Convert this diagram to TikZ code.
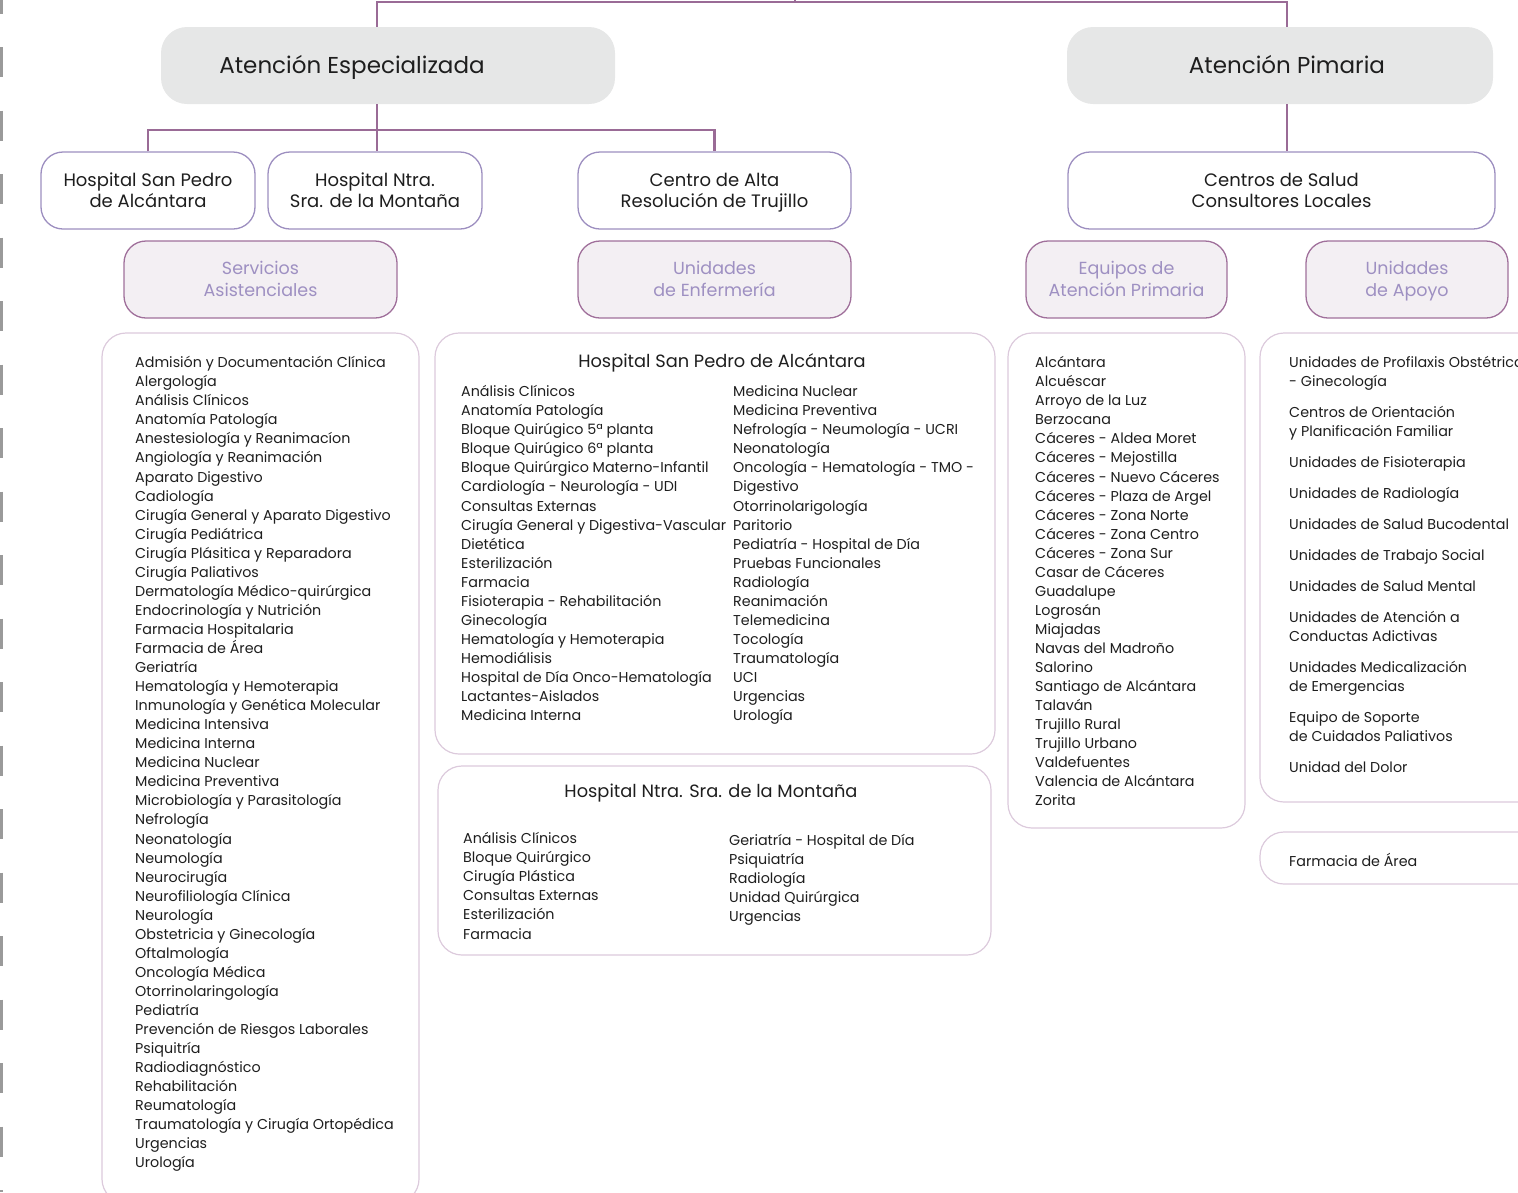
\documentclass[tikz,border=0pt]{standalone}
\usepackage{fontspec}
\setmainfont{Poppins}
\definecolor{connc}{HTML}{9A6B96}
\definecolor{headfill}{HTML}{E6E7E7}
\definecolor{unitborder}{HTML}{9D8FC0}
\definecolor{catborder}{HTML}{A0709B}
\definecolor{catfill}{HTML}{F3EFF3}
\definecolor{cattext}{HTML}{9E90C2}
\definecolor{listborder}{HTML}{DCCADC}
\definecolor{textdark}{HTML}{1E1E1E}
\definecolor{dashgray}{HTML}{9A9A9A}
\newcommand\listfont{\fontsize{14.3}{19}\selectfont}
\newcommand\hs{\rule[-10pt]{0pt}{36pt}}
\newcommand\ut{\rule{0pt}{22pt}}
\newcommand\ub{\rule[-9.4pt]{0pt}{9.4pt}}
\newcommand\ct{\rule{0pt}{21pt}}
\newcommand\cb{\rule[-8.8pt]{0pt}{8.8pt}}
\begin{document}
\setlength{\lineskiplimit}{-50pt}
\begin{tikzpicture}[x=1pt,y=-1pt,
  conn/.style={draw=connc, line width=2.6pt},
  headbox/.style={fill=headfill, rounded corners=26pt, inner sep=0, minimum height=77pt,
    font=\fontsize{23}{28}\selectfont, text=textdark},
  unitbox/.style={draw=unitborder, line width=1.3pt, fill=white, rounded corners=22pt, inner sep=0,
    minimum height=77pt, align=center, font=\fontsize{18}{21}\selectfont, text=textdark},
  catbox/.style={draw=catborder, line width=1.3pt, fill=catfill, rounded corners=22pt, inner sep=0,
    minimum height=77pt, align=center, font=\fontsize{17.5}{22}\selectfont, text=cattext},
  listbox/.style={draw=listborder, line width=1.2pt, rounded corners=24pt, inner sep=0},
  itemtext/.style={anchor=mid west, inner sep=0, font=\listfont, text=textdark, yshift=-3pt},
  titletext/.style={anchor=mid, inner sep=0, font=\fontsize{17.8}{22}\selectfont, text=textdark, yshift=-4pt}
]
\useasboundingbox (0,0) rectangle (1518,1192);
\clip (0,0) rectangle (1518,1192);

% left dashed rule
\draw[dashgray, line width=3pt, dash pattern=on 30pt off 33.5pt] (1.5,-16.5) -- (1.5,1192);

% level 1
\node[headbox, minimum width=454pt] (AE) at (388,65.5) {\hs Atención Especializada\kern72pt};
\node[headbox, minimum width=426pt] (AP) at (1280,65.5) {\hs\kern14pt Atención Pimaria};

% level 2
\node[unitbox, minimum width=214pt] (HSP) at (148,190.5) {\ut Hospital San Pedro\\de Alcántara\ub};
\node[unitbox, minimum width=214pt] (HNS) at (375,190.5) {\ut Hospital Ntra.\\Sra. de la Montaña\ub};
\node[unitbox, minimum width=273pt] (CAR) at (714.5,190.5) {\ut Centro de Alta\\Resolución de Trujillo\ub};
\node[unitbox, minimum width=427pt] (CS) at (1281.5,190.5) {\ut Centros de Salud\\Consultores Locales\ub};

% categories
\node[catbox, minimum width=273pt] (SA) at (260.5,279.5) {\ct Servicios\\Asistenciales\cb};
\node[catbox, minimum width=273pt] (UE) at (714.5,279.5) {\ct Unidades\\de Enfermería\cb};
\node[catbox, minimum width=201pt] (EAP) at (1126.5,279.5) {\ct Equipos de\\Atención Primaria\cb};
\node[catbox, minimum width=202pt] (UA) at (1407,279.5) {\ct Unidades\\de Apoyo\cb};

% connectors
\coordinate (j1) at (377,2);
\coordinate (j2) at (1287,2);
\coordinate (root) at (795,-8);
\coordinate (j3) at (377,130);
\draw[conn] (j1 |- AE.north) -- (j1) -- (j2) -- (j2 |- AP.north);
\draw[conn] (root) -- (root |- j1);
\draw[conn] (j1 |- AE.south) -- (j1 |- HNS.north);
\draw[conn] (HSP.north) |- (j3) -| (CAR.north);
\draw[conn] (j2 |- AP.south) -- (j2 |- CS.north);

% list boxes
\node[listbox, minimum width=317pt, minimum height=870pt] (LSA) at (260.5,768) {};
\node[listbox, minimum width=560pt, minimum height=421pt] (LHSP) at (715,543.5) {};
\node[listbox, minimum width=553pt, minimum height=189pt] (LHNS) at (714.5,860.5) {};
\node[listbox, minimum width=237pt, minimum height=495pt] (LEAP) at (1126.5,580.5) {};
\node[listbox, minimum width=300pt, minimum height=469pt] (LUA) at (1410,567.5) {};
\node[listbox, minimum width=300pt, minimum height=52pt] (LFA) at (1410,858) {};

% Servicios Asistenciales list
\foreach \t [count=\i] in {Admisión y Documentación Clínica, Alergología, Análisis Clínicos, Anatomía Patología,
  Anestesiología y Reanimacíon, Angiología y Reanimación, Aparato Digestivo, Cadiología,
  Cirugía General y Aparato Digestivo, Cirugía Pediátrica, Cirugía Plásitica y Reparadora, Cirugía Paliativos,
  Dermatología Médico-quirúrgica, Endocrinología y Nutrición, Farmacia Hospitalaria, Farmacia de Área,
  Geriatría, Hematología y Hemoterapia, Inmunología y Genética Molecular, Medicina Intensiva,
  Medicina Interna, Medicina Nuclear, Medicina Preventiva, Microbiología y Parasitología,
  Nefrología, Neonatología, Neumología, Neurocirugía, Neurofiliología Clínica, Neurología,
  Obstetricia y Ginecología, Oftalmología, Oncología Médica, Otorrinolaringología, Pediatría,
  Prevención de Riesgos Laborales, Psiquitría, Radiodiagnóstico, Rehabilitación, Reumatología,
  Traumatología y Cirugía Ortopédica, Urgencias, Urología}
  \node[itemtext] (sa\i) at (135,{362+19.05*(\i-1)}) {\t};

% Hospital San Pedro (enfermeria)
\node[titletext] (tHSP) at (722,361) {Hospital San Pedro de Alcántara};
\foreach \t [count=\i] in {Análisis Clínicos, Anatomía Patología, Bloque Quirúgico 5ª planta,
  Bloque Quirúgico 6ª planta, Bloque Quirúrgico Materno-Infantil, Cardiología - Neurología - UDI,
  Consultas Externas, Cirugía General y Digestiva-Vascular, Dietética, Esterilización, Farmacia,
  Fisioterapia - Rehabilitación, Ginecología, Hematología y Hemoterapia, Hemodiálisis,
  Hospital de Día Onco-Hematología, Lactantes-Aislados, Medicina Interna}
  \node[itemtext] (ea\i) at (461,{391+19.05*(\i-1)}) {\t};
\foreach \t [count=\i] in {Medicina Nuclear, Medicina Preventiva, Nefrología - Neumología - UCRI,
  Neonatología, Oncología - Hematología - TMO -, Digestivo, Otorrinolarigología, Paritorio,
  Pediatría - Hospital de Día, Pruebas Funcionales, Radiología, Reanimación, Telemedicina,
  Tocología, Traumatología, UCI, Urgencias, Urología}
  \node[itemtext] (eb\i) at (733,{391+19.05*(\i-1)}) {\t};

% Hospital Ntra. Sra. de la Montaña
\node[titletext] (tHNS) at (711,791) {Hospital Ntra. Sra. de la Montaña};
\foreach \t [count=\i] in {Análisis Clínicos, Bloque Quirúrgico, Cirugía Plástica, Consultas Externas,
  Esterilización, Farmacia}
  \node[itemtext] (ma\i) at (463,{838+19.05*(\i-1)}) {\t};
\foreach \t [count=\i] in {Geriatría - Hospital de Día, Psiquiatría, Radiología, Unidad Quirúrgica, Urgencias}
  \node[itemtext] (mb\i) at (729,{840+19.05*(\i-1)}) {\t};

% Equipos de Atencion Primaria
\foreach \t [count=\i] in {Alcántara, Alcuéscar, Arroyo de la Luz, Berzocana, Cáceres - Aldea Moret,
  Cáceres - Mejostilla, Cáceres - Nuevo Cáceres, Cáceres - Plaza de Argel, Cáceres - Zona Norte,
  Cáceres - Zona Centro, Cáceres - Zona Sur, Casar de Cáceres, Guadalupe, Logrosán, Miajadas,
  Navas del Madroño, Salorino, Santiago de Alcántara, Talaván, Trujillo Rural, Trujillo Urbano,
  Valdefuentes, Valencia de Alcántara, Zorita}
  \node[itemtext] (ep\i) at (1035,{362+19.05*(\i-1)}) {\t};

% Unidades de Apoyo
\foreach \yy/\t [count=\i] in {362/Unidades de Profilaxis Obstétrica, 381/- Ginecología,
  412/Centros de Orientación, 431/y Planificación Familiar, 462/Unidades de Fisioterapia,
  493/Unidades de Radiología, 524/Unidades de Salud Bucodental, 555/Unidades de Trabajo Social,
  586/Unidades de Salud Mental, 617/Unidades de Atención a, 636/Conductas Adictivas,
  667/Unidades Medicalización, 686/de Emergencias, 717/Equipo de Soporte,
  736/de Cuidados Paliativos, 767/Unidad del Dolor}
  \node[itemtext] (ua\i) at (1289,\yy) {\t};
\node[itemtext] (fa) at (1289,861) {Farmacia de Área};
\end{tikzpicture}
\end{document}
